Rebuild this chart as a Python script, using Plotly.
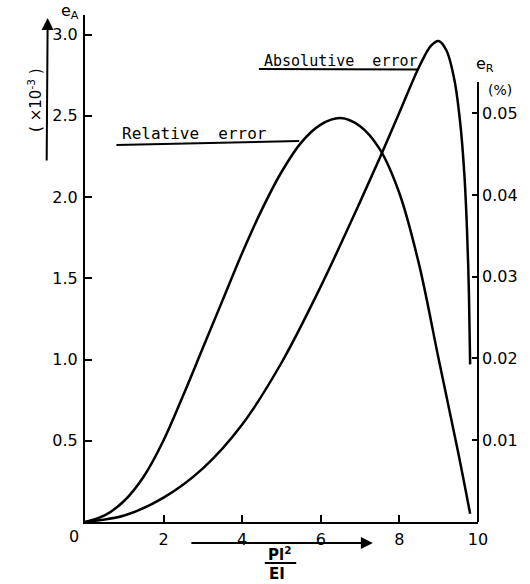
import plotly.graph_objects as go

# ---- data ----
pl2_abs = [0, 1.0, 2.0, 3.0, 4.0, 5.0, 6.0, 7.0, 7.5, 8.0, 8.5, 8.8, 9.0, 9.2, 9.4, 9.55, 9.65, 9.72, 9.77, 9.80]
abs_err = [0, 0.04, 0.15, 0.33, 0.60, 0.98, 1.45, 1.97, 2.24, 2.52, 2.80, 2.93, 2.96, 2.90, 2.72, 2.45, 2.15, 1.80, 1.40, 0.97]  # x10^-3

pl2_rel = [0, 0.5, 1.0, 1.5, 2.0, 2.5, 3.0, 3.5, 4.0, 4.5, 5.0, 5.5, 6.0, 6.5, 7.0, 7.5, 8.0, 8.5, 9.0, 9.5, 9.8]
rel_err = [0, 0.0008, 0.0026, 0.0056, 0.0100, 0.0155, 0.0213, 0.0271, 0.0329, 0.0382, 0.0428, 0.0464,
           0.0486, 0.0494, 0.0484, 0.0456, 0.0402, 0.0315, 0.0199, 0.0084, 0.0010]  # %

x_ticks = [2, 4, 6, 8, 10]
x_ticktext = ["2", "4", "6", "8", "10"]
left_ticks = [0.5, 1.0, 1.5, 2.0, 2.5, 3.0]
left_ticktext = ["0.5", "1.0", "1.5", "2.0", "2.5", "3.0"]
right_ticks = [0.01, 0.02, 0.03, 0.04, 0.05]
right_ticktext = ["0.01", "0.02", "0.03", "0.04", "0.05"]

# ---- layout geometry ----
W, H = 530, 584
L, R, T, B = 85, 45, 15, 62
PW, PH = W - L - R, H - T - B


def px(xp, yp):
    return (xp - L) / PW, (H - B - yp) / PH


NUM = dict(family="DejaVu Sans", size=16, color="black")
MONO = "DejaVu Sans Mono"

fig = go.Figure()
fig.add_trace(go.Scatter(x=pl2_abs, y=abs_err, mode="lines", yaxis="y",
                         line=dict(color="black", width=2.5, shape="spline", smoothing=0.9),
                         cliponaxis=False, hoverinfo="skip"))
fig.add_trace(go.Scatter(x=pl2_rel, y=rel_err, mode="lines", yaxis="y2",
                         line=dict(color="black", width=2.5, shape="spline", smoothing=1.0),
                         cliponaxis=False, hoverinfo="skip"))

annos = []


def text(xp, yp, s, size=16, family="DejaVu Sans", angle=0, xanchor="center"):
    xx, yy = px(xp, yp)
    annos.append(dict(x=xx, y=yy, xref="paper", yref="paper", text=s, showarrow=False,
                      xanchor=xanchor, yanchor="middle", textangle=angle,
                      font=dict(family=family, size=size, color="black")))


def arrow(x_tip, y_tip, x_tail, y_tail):
    xx, yy = px(x_tip, y_tip)
    annos.append(dict(x=xx, y=yy, xref="paper", yref="paper", text="", showarrow=True,
                      ax=x_tail - x_tip, ay=y_tail - y_tip, arrowhead=2, arrowsize=1.2,
                      arrowwidth=2, arrowcolor="black"))


text(70, 12, "e<sub>A</sub>", 16)
text(34, 100, "( ×10<sup>-3</sup> )", 15, angle=-90)
text(492, 64, "e<sub>R</sub>", 16)
text(507, 90, "(%)", 14)
text(74, 536, "0", 16)
text(196, 133, "Relative  error", 16, MONO)
text(346, 61, "Absolutive  error", 15, MONO)
text(283, 554, "<b>Pl<sup>2</sup></b>", 15)
text(280, 574, "<b>EI</b>", 15)
arrow(378, 543, 195, 543)
arrow(47, 18, 46, 162)

shapes = []


def seg(x0p, y0p, x1p, y1p, w=2):
    a, b = px(x0p, y0p)
    c, d = px(x1p, y1p)
    shapes.append(dict(type="line", xref="paper", yref="paper", x0=a, y0=b, x1=c, y1=d,
                       line=dict(color="black", width=w)))


seg(485, 522, 485, 82)           # right axis line
seg(117, 145, 303, 141)          # underline Relative error
seg(262, 69, 424, 69.5)          # underline Absolutive error
seg(268, 563, 300, 563)          # fraction bar

fig.update_layout(
    width=W, height=H, margin=dict(l=L, r=R, t=T, b=B),
    paper_bgcolor="white", plot_bgcolor="white", showlegend=False,
    xaxis=dict(range=[0, 10], showline=True, linecolor="black", linewidth=2, ticks="inside",
               ticklen=7, tickwidth=2, tickcolor="black", tickvals=x_ticks, ticktext=x_ticktext,
               showgrid=False, zeroline=False, tickfont=NUM, ticklabelstandoff=2),
    yaxis=dict(range=[0, 3.12], showline=True, linecolor="black", linewidth=2, ticks="inside",
               ticklen=7, tickwidth=2, tickcolor="black", tickvals=left_ticks, ticktext=left_ticktext,
               showgrid=False, zeroline=False, tickfont=NUM, ticklabelstandoff=2),
    yaxis2=dict(range=[0, 0.0620], overlaying="y", side="right", showline=False, ticks="inside",
                ticklen=6, tickwidth=2, tickcolor="black", tickvals=right_ticks, ticktext=right_ticktext,
                showgrid=False, zeroline=False, tickfont=NUM, ticklabelstandoff=3),
    annotations=annos, shapes=shapes,
)

fig.write_html("out.html")
